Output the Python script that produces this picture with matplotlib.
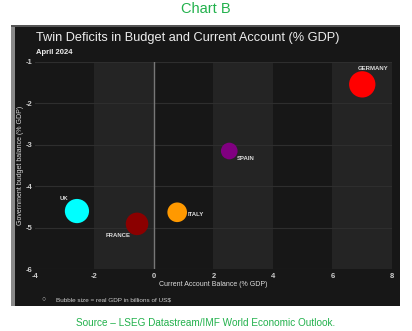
import matplotlib.pyplot as plt
from matplotlib.patches import Rectangle

plt.rcParams['font.family'] = ['Liberation Sans', 'DejaVu Sans']
plt.rcParams['axes.unicode_minus'] = False

# current account balance, budget balance (% GDP) and real GDP (bn US$)
countries = ['GERMANY', 'SPAIN', 'UK', 'FRANCE', 'ITALY']
current_account = [7.0, 2.53, -2.59, -0.57, 0.78]
budget_balance = [-1.54, -3.15, -4.60, -4.91, -4.63]
gdp_bn = [4500, 1800, 3800, 3300, 2500]
colors = ['#ff0000', '#800080', '#00ffff', '#8b0000', '#ff9900']

x_ticks = [-4, -2, 0, 2, 4, 6, 8]
y_ticks = [-6, -5, -4, -3, -2, -1]

# where each name sits relative to its bubble, in pixels
label_offsets = {'GERMANY': (11, 16), 'SPAIN': (16, -7), 'UK': (-13, 13),
                 'FRANCE': (-19, -12), 'ITALY': (19, -2)}

W, H = 412, 331
fig = plt.figure(figsize=(W / 100, H / 100), dpi=100)
fig.patch.set_facecolor('white')

# dark panel behind the chart
fig.patches.append(Rectangle((11 / W, 1 - 306 / H), 389 / W, 281 / H,
                             transform=fig.transFigure, facecolor='#171717',
                             edgecolor='none', zorder=-3))
fig.patches.append(Rectangle((11 / W, 1 - 306 / H), 4 / W, 281 / H,
                             transform=fig.transFigure, facecolor='#8a8a8a',
                             edgecolor='none', zorder=-2))
fig.patches.append(Rectangle((11 / W, 1 - 27 / H), 389 / W, 2 / H,
                             transform=fig.transFigure, facecolor='#555555',
                             edgecolor='none', zorder=-2))

ax = fig.add_axes([35 / W, 1 - 269 / H, 357 / W, 207 / H])
ax.set_facecolor('#171717')
ax.set_xlim(-4, 8)
ax.set_ylim(-6, -1)

# alternating column shading
for i, x0 in enumerate(x_ticks[:-1]):
    if i % 2 == 1:
        ax.axvspan(x0, x0 + 2, color='#242424', lw=0, zorder=0)
for y in y_ticks:
    ax.axhline(y, color='#2e2e2e', lw=0.8, zorder=1)
ax.axvline(0, color='#777777', lw=1.0, zorder=1)

sizes = [g * 0.08 for g in gdp_bn]
ax.scatter(current_account, budget_balance, s=sizes, c=colors,
           edgecolors='none', zorder=3)

for name, x, y in zip(countries, current_account, budget_balance):
    ax.annotate(name, (x, y), xytext=label_offsets[name],
                textcoords='offset pixels', ha='center', va='center',
                fontsize=4.3, color='#dddddd', fontweight='bold', zorder=4)

for s in ax.spines.values():
    s.set_visible(False)
ax.set_xticks(x_ticks)
ax.set_yticks(y_ticks)
ax.tick_params(length=0, labelsize=5.5, labelcolor='#cccccc', pad=2)
ax.tick_params(axis='x', pad=3)
for lab in ax.get_xticklabels() + ax.get_yticklabels():
    lab.set_fontweight('bold')
ax.set_xlabel('Current Account Balance (% GDP)', fontsize=5, color='#dddddd')
ax.set_ylabel('Government budget balance (% GDP)', fontsize=5, color='#dddddd')
ax.xaxis.set_label_coords(0.5, -0.058)
ax.yaxis.set_label_coords(-0.03, 0.5)

fig.text(36 / W, 1 - 38 / H, 'Twin Deficits in Budget and Current Account (% GDP)',
         fontsize=9.2, color='#eeeeee', va='center', ha='left')
fig.text(36 / W, 1 - 53 / H, 'April 2024', fontsize=5.5, color='#eeeeee',
         va='center', ha='left', fontweight='bold')

fig.text(44 / W, 1 - 300 / H, '○', fontsize=5, color='#bbbbbb',
         va='center', ha='center')
fig.text(56 / W, 1 - 300 / H, 'Bubble size = real GDP in billions of US$',
         fontsize=4.6, color='#cccccc', va='center', ha='left')

fig.text(0.5, 1 - 9 / H, 'Chart B', fontsize=10.5, color='#22b14c',
         va='center', ha='center')
fig.text(206 / W, 1 - 323 / H, 'Source – LSEG Datastream/IMF World Economic Outlook.',
         fontsize=7.2, color='#22b14c', va='center', ha='center')

fig.savefig('out.png', dpi=100, facecolor='white')
